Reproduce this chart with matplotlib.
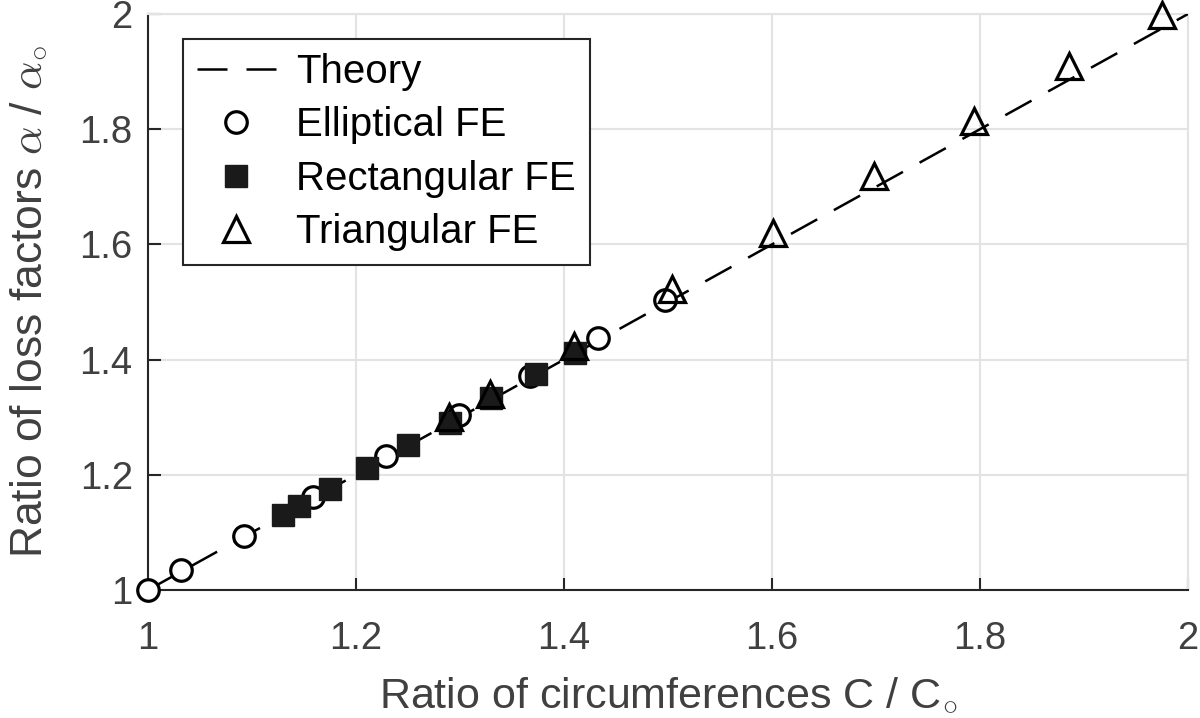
import numpy as np
import matplotlib
matplotlib.use("Agg")
from matplotlib import pyplot as plt

plt.rcParams['font.family'] = ['Liberation Sans', 'DejaVu Sans']
plt.rcParams['mathtext.fontset'] = 'cm'

# -----------------------------------------------------------------------------
# data
theory_x = [1.0, 2.0]
theory_y = [1.0, 2.0]

ellip_x = [1.000, 1.032, 1.092, 1.159, 1.229, 1.299, 1.367, 1.433, 1.497]
ellip_y = [1.000, 1.034, 1.093, 1.162, 1.233, 1.304, 1.372, 1.437, 1.503]

rect_x = [1.130, 1.145, 1.175, 1.211, 1.250, 1.290, 1.330, 1.373, 1.411]
rect_y = [1.130, 1.145, 1.175, 1.212, 1.252, 1.290, 1.333, 1.375, 1.411]

tri_x = [1.289, 1.329, 1.410, 1.504, 1.601, 1.698, 1.794, 1.886, 1.975]
tri_y = [1.301, 1.340, 1.424, 1.522, 1.619, 1.719, 1.815, 1.909, 1.998]

ticks = [1, 1.2, 1.4, 1.6, 1.8, 2]
tick_labels = ['1', '1.2', '1.4', '1.6', '1.8', '2']

axis_col = '#262626'
text_col = '#404040'

# -----------------------------------------------------------------------------
fig = plt.figure(figsize=(12, 7.18), dpi=100, facecolor='w')
ax = fig.add_axes([148/1200, 1 - 590/718, 1040/1200, 576/718])

ax.plot(theory_x, theory_y, '-', color='k', lw=1.8, dashes=(12, 7.6),
        label='Theory', zorder=3)
ax.plot(ellip_x, ellip_y, 'o', ms=15.5, mfc='w', mec='k', mew=2.3,
        label='Elliptical FE', zorder=4, clip_on=False)
ax.plot(rect_x, rect_y, 's', ms=16.5, mfc='#1a1a1a', mec='#1a1a1a', mew=1.0,
        label='Rectangular FE', zorder=4, clip_on=False)
ax.plot(tri_x, tri_y, '^', ms=18.5, mfc='none', mec='k', mew=2.3,
        label='Triangular FE', zorder=5, clip_on=False)

ax.set_xlim(1, 2)
ax.set_ylim(1, 2)
ax.set_xticks(ticks)
ax.set_xticklabels(tick_labels)
ax.set_yticks(ticks)
ax.set_yticklabels(tick_labels)

ax.grid(True, color='#e3e3e3', lw=1.5, zorder=0)
ax.set_axisbelow(True)
for side in ['top', 'right']:
    ax.spines[side].set_color('#e3e3e3')
    ax.spines[side].set_linewidth(1.5)
for side in ['left', 'bottom']:
    ax.spines[side].set_color(axis_col)
    ax.spines[side].set_linewidth(1.5)

ax.tick_params(axis='both', direction='in', length=9, width=1.5,
               color=axis_col, labelcolor=text_col, labelsize=27.5)
ax.tick_params(axis='x', pad=22)
ax.tick_params(axis='y', pad=11)

ax.set_xlabel(r'Ratio of circumferences C / C$_{\circ}$', fontsize=31,
              color=text_col, labelpad=14)
ax.set_ylabel(r'Ratio of loss factors $\alpha$ / $\alpha_{\circ}$', fontsize=32,
              color=text_col, labelpad=22)

leg = ax.legend(loc='upper left', bbox_to_anchor=(35/1040, 1 - 25/576),
                fontsize=29, frameon=True, fancybox=False, framealpha=1,
                edgecolor=axis_col, handlelength=1.95, handletextpad=0.5,
                labelspacing=0.38, borderpad=0.35, borderaxespad=0.0)
leg.get_frame().set_linewidth(1.5)
for t in leg.get_texts():
    t.set_color('k')

fig.savefig('out.png', dpi=100)
